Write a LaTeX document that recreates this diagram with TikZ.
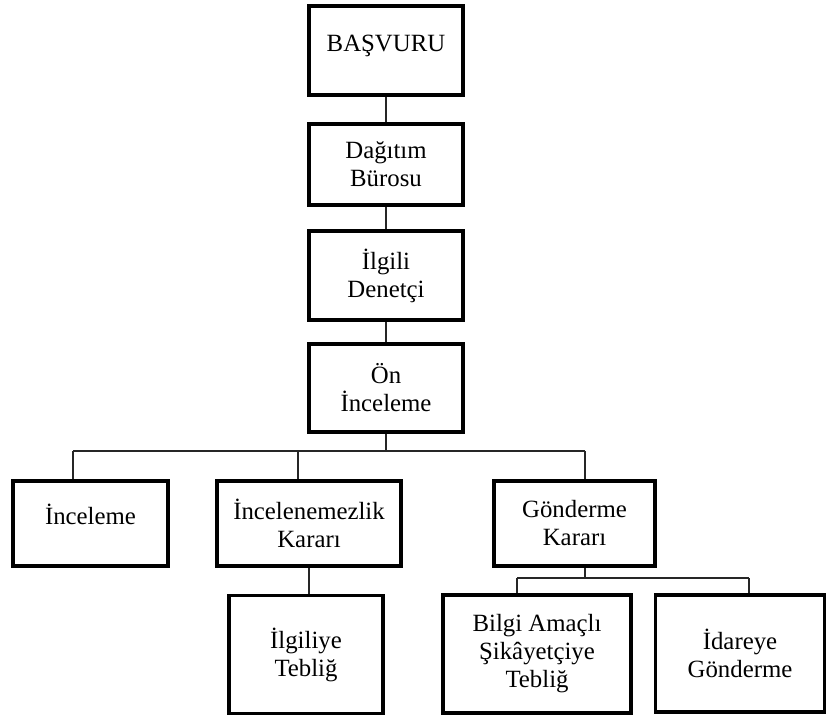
\documentclass[tikz,border=0pt]{standalone}
\usepackage{fontspec}
\setmainfont{Liberation Serif}
\begin{document}
\begin{tikzpicture}[x=1pt,y=-1pt,
  box/.style={draw=black,line width=3.5pt,rectangle,align=center,inner sep=0pt,
    font=\fontsize{24.8}{28}\selectfont},
  raised/.style={text height=17pt,text depth=15pt},
  conn/.style={draw=black!85,line width=1.5pt}]
\useasboundingbox (0,0) rectangle (827,715);

% main column
\node[box,minimum width=154pt,minimum height=89pt,raised] (bas) at (386,50.5) {BAŞVURU};
\node[box,minimum width=154pt,minimum height=81pt] (dag) at (386,164.5) {Dağıtım\\Bürosu};
\node[box,minimum width=154pt,minimum height=89pt] (ilg) at (386,275.5) {İlgili\\Denetçi};
\node[box,minimum width=154pt,minimum height=88pt] (on) at (386,388) {Ön\\İnceleme};

% second level
\node[box,minimum width=155pt,minimum height=85pt,raised] (inc) at (90.5,523.5) {İnceleme};
\node[box,minimum width=184pt,minimum height=85pt] (ink) at (309,523.5) {İncelenemezlik\\Kararı};
\node[box,minimum width=161pt,minimum height=85pt] (gon) at (574.5,523.5) {Gönderme\\Kararı};

% third level
\node[box,minimum width=154pt,minimum height=118pt] (ilt) at (306,654.5) {İlgiliye\\Tebliğ};
\node[box,minimum width=188pt,minimum height=118pt] (bil) at (537,654) {Bilgi Amaçlı\\Şikâyetçiye\\Tebliğ};
\node[box,minimum width=169pt,minimum height=117pt] (ida) at (740,653.5) {İdareye\\Gönderme};

% bus points
\coordinate (busL) at (73,451);
\coordinate (busM) at (298,451);
\coordinate (busR) at (585,451);
\coordinate (subL) at (517,578);
\coordinate (subR) at (749,578);

% connectors
\draw[conn] (bas) -- (dag);
\draw[conn] (dag) -- (ilg);
\draw[conn] (ilg) -- (on);
\draw[conn] (on.south) -- (on.south |- busL);
\draw[conn] (busL) -- (busR);
\draw[conn] (busL) -- (busL |- inc.north);
\draw[conn] (busM) -- (busM |- ink.north);
\draw[conn] (busR) -- (busR |- gon.north);
\draw[conn] (ink.south) -- (ink.south |- ilt.north);
\draw[conn] (gon.south -| busR) -- (busR |- subL);
\draw[conn] (subL) -- (subR);
\draw[conn] (subL) -- (subL |- bil.north);
\draw[conn] (subR) -- (subR |- ida.north);
\end{tikzpicture}
\end{document}
